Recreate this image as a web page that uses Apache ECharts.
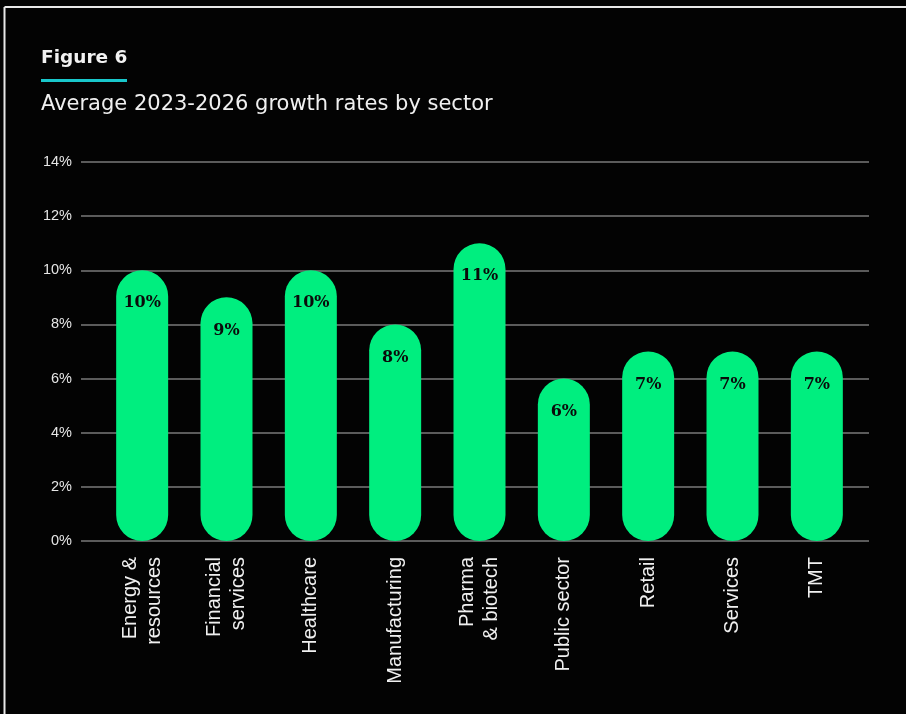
<!DOCTYPE html>
<html>
<head>
<meta charset="utf-8">
<script src="https://cdn.jsdelivr.net/npm/echarts@6/dist/echarts.min.js"></script>
<style>
html,body{margin:0;padding:0;background:#030303;}
#chart{width:906px;height:714px;}
</style>
</head>
<body>
<div id="chart"></div>
<script>
const categories = ["Energy &\nresources", "Financial\nservices", "Healthcare", "Manufacturing", "Pharma\n& biotech", "Public sector", "Retail", "Services", "TMT"];
const growthRates = [10, 9, 10, 8, 11, 6, 7, 7, 7];
const yTicks = { min: 0, max: 14, interval: 2 };

const chart = echarts.init(document.getElementById('chart'), null, { renderer: 'canvas' });
const option = {
  backgroundColor: '#030303',
  animation: false,
  title: [
    { text: 'Figure 6', left: 36, top: 44, textStyle: { color: '#f2f2f2', fontFamily: 'DejaVu Sans', fontWeight: 'bold', fontSize: 18.5 } },
    { text: 'Average 2023-2026 growth rates by sector', left: 36, top: 89, textStyle: { color: '#f0f0f0', fontFamily: 'DejaVu Sans', fontWeight: 'normal', fontSize: 21 } }
  ],
  graphic: [
    { type: 'rect', shape: { x: 41, y: 79, width: 86, height: 3 }, style: { fill: '#19c7cb' } },
    { type: 'line', shape: { x1: 4.5, y1: 7, x2: 906, y2: 7 }, style: { stroke: '#e8e8e8', lineWidth: 2 } },
    { type: 'line', shape: { x1: 4.5, y1: 7, x2: 4.5, y2: 714 }, style: { stroke: '#e8e8e8', lineWidth: 2 } }
  ],
  grid: [
    { left: 81, right: 37, top: 162, bottom: 173 },
    { left: 100, right: 47, top: 162, bottom: 173 }
  ],
  xAxis: [
    { type: 'value', gridIndex: 0, show: false, min: 0, max: 1 },
    {
      type: 'category', gridIndex: 1, data: categories,
      axisLine: { show: false }, axisTick: { show: false },
      axisLabel: { rotate: 90, margin: 16, color: '#f0f0f0', fontFamily: 'Liberation Sans', fontSize: 20, lineHeight: 24, interval: 0 }
    }
  ],
  yAxis: [
    {
      type: 'value', gridIndex: 0, min: yTicks.min, max: yTicks.max, interval: yTicks.interval,
      axisLine: { show: false }, axisTick: { show: false },
      axisLabel: { formatter: '{value}%', color: '#e6e6e6', fontFamily: 'Liberation Sans', fontSize: 14.5, margin: 9 },
      splitLine: { lineStyle: { color: '#7a7a7a', width: 1.5 } }
    },
    { type: 'value', gridIndex: 1, min: yTicks.min, max: yTicks.max, interval: yTicks.interval, show: false, splitLine: { show: false } }
  ],
  series: [{
    type: 'bar', xAxisIndex: 1, yAxisIndex: 1, data: growthRates, barWidth: 52,
    itemStyle: { color: '#00ee7f', borderRadius: 26 },
    label: { show: true, position: 'insideTop', distance: 25, formatter: '{c}%', color: '#0a0a0a', fontFamily: 'DejaVu Serif', fontWeight: 'bold', fontSize: 16 }
  }]
};
chart.setOption(option);
</script>
</body>
</html>
